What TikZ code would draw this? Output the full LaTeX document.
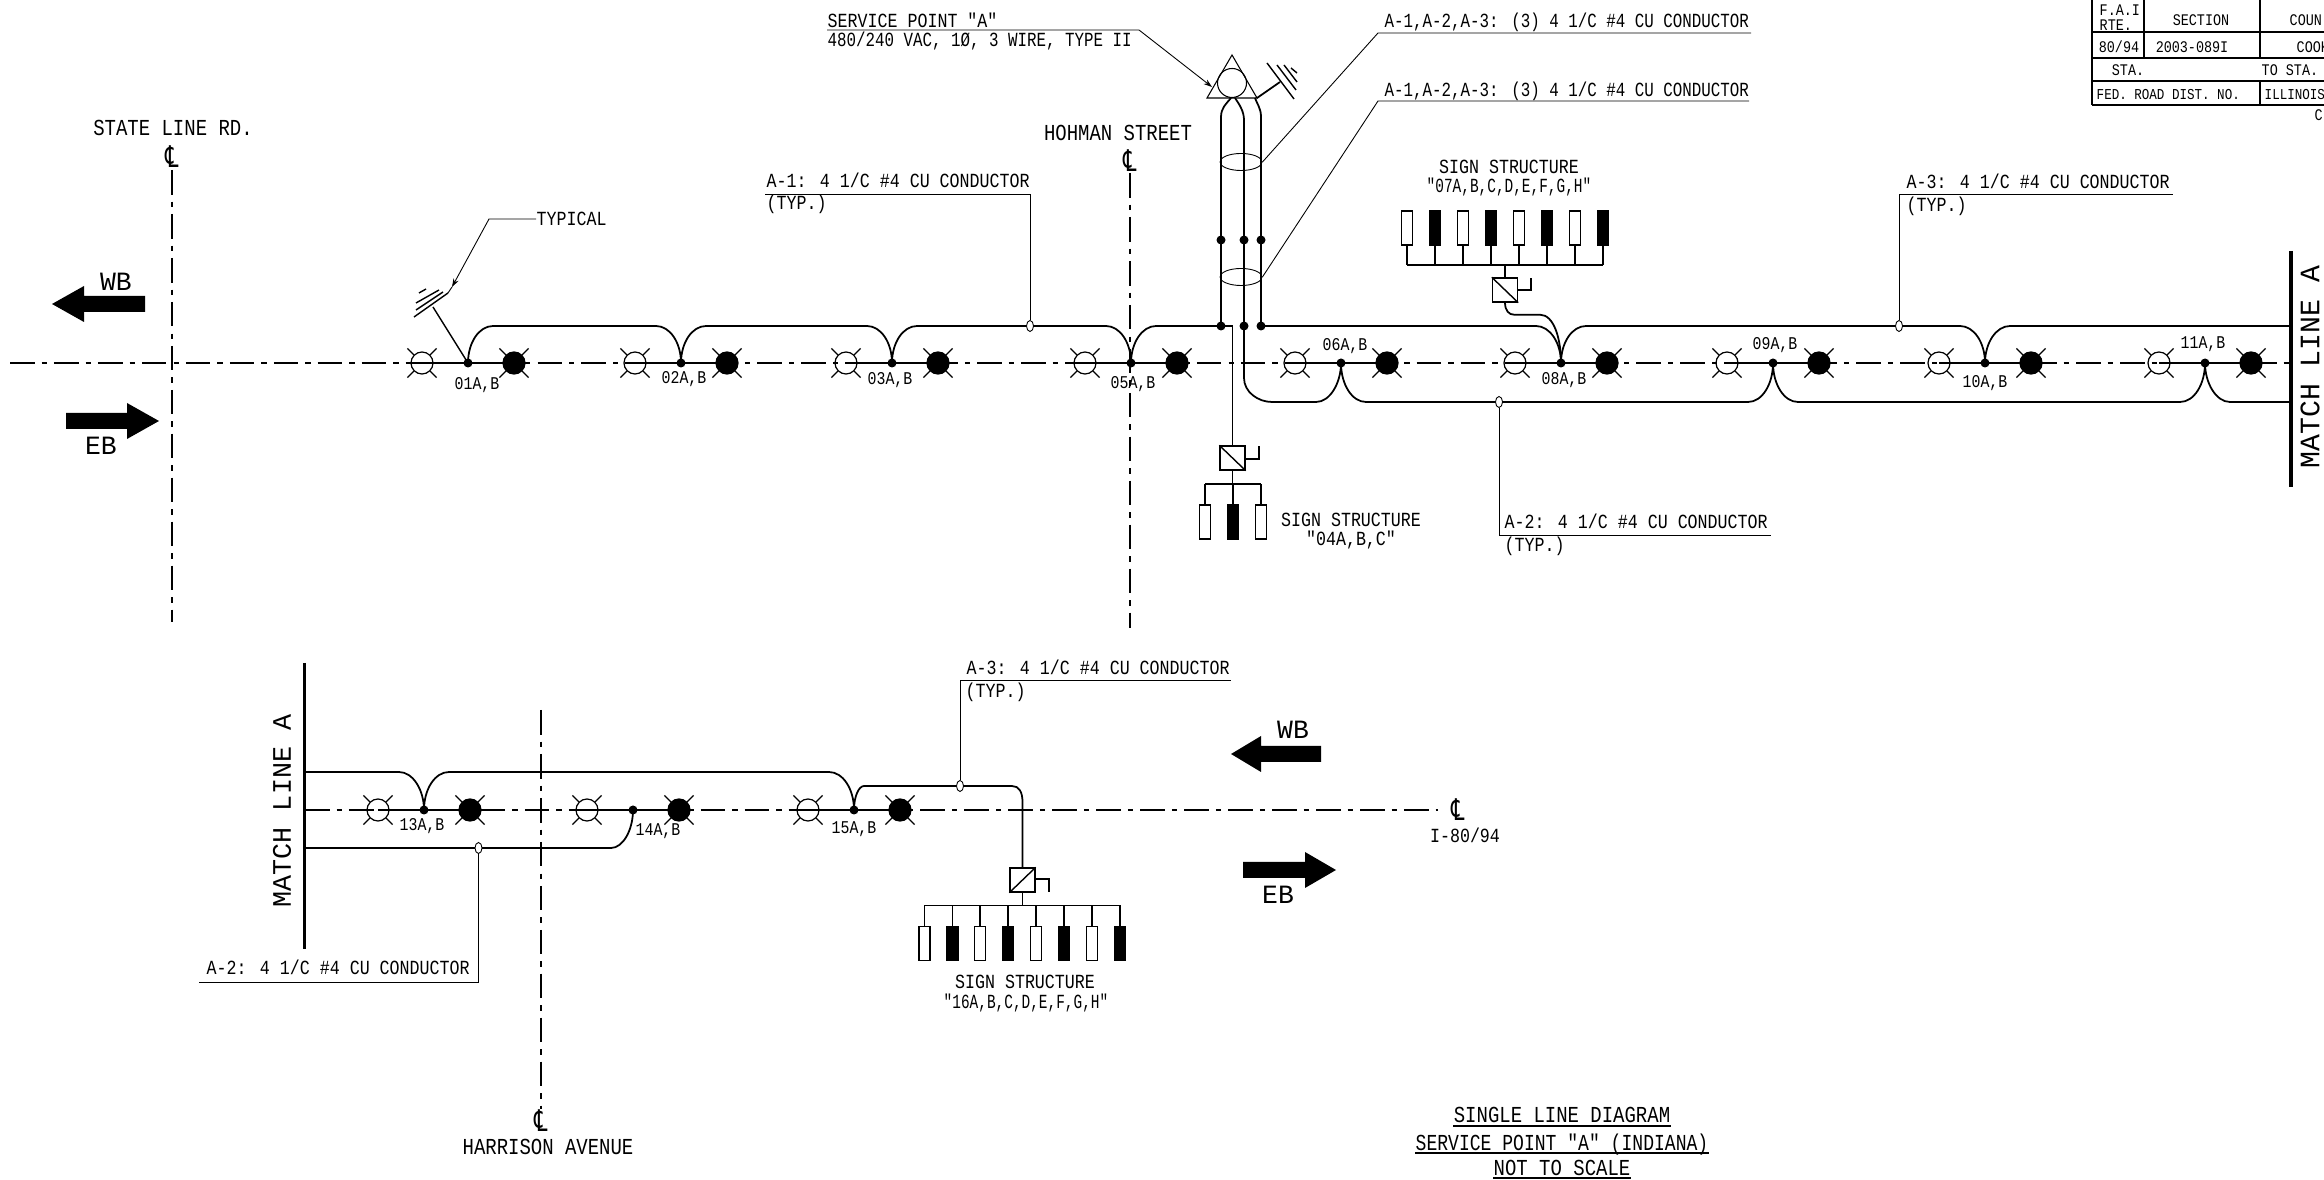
\documentclass[tikz,border=0pt]{standalone}
\usepackage{fontspec}
\usetikzlibrary{arrows.meta,shapes.geometric}
\newfontfamily\cadfont[FakeStretch=0.83]{Liberation Mono}
\newfontfamily\narrowfont[FakeStretch=0.79]{Liberation Mono}
\newfontfamily\signfont[FakeStretch=0.72]{Liberation Mono}
\newfontfamily\widefont{Liberation Mono}
\newfontfamily\clfont[FakeStretch=0.7]{DejaVu Sans}
\newcommand{\clmark}{\clfont\fontsize{8.5}{9}\selectfont ℄}
\tikzset{
  txt/.style={font=\cadfont\fontsize{5.7}{6.5}\selectfont,inner sep=0},
  narrowtxt/.style={font=\narrowfont\fontsize{5.7}{6.5}\selectfont,inner sep=0},
  signtxt/.style={font=\signfont\fontsize{5.7}{6.5}\selectfont,inner sep=0},
  roadtxt/.style={font=\cadfont\fontsize{6.5}{7}\selectfont,inner sep=0},
  poletxt/.style={font=\cadfont\fontsize{5.1}{6}\selectfont,inner sep=0},
  tabletxt/.style={font=\cadfont\fontsize{4.6}{5}\selectfont,inner sep=0},
  fedtxt/.style={font=\cadfont\fontsize{4.3}{5}\selectfont,inner sep=0},
  dirtxt/.style={font=\widefont\fontsize{7.5}{8}\selectfont,inner sep=0},
  matchtxt/.style={font=\widefont\fontsize{8}{9}\selectfont,inner sep=0,rotate=90},
  cltxt/.style={font=\clmark,inner sep=0},
  centre/.style={line width=0.35pt,dash pattern=on 7pt off 2pt on 1.5pt off 2pt},
  bus/.style={line width=0.5pt},
  seg/.style={line width=0.7pt},
  leader/.style={line width=0.25pt},
  lamp/.style={circle,draw,line width=0.35pt,minimum size=0.22cm,inner sep=0},
  lampon/.style={lamp,fill},
  pole/.style={circle,fill,minimum size=0.09cm,inner sep=0},
  tick/.style={ellipse,draw,line width=0.25pt,fill=white,minimum width=0.07cm,minimum height=0.11cm,inner sep=0},
  signw/.style={rectangle,draw,line width=0.35pt,minimum width=0.11cm,minimum height=0.34cm,inner sep=0},
  signb/.style={signw,fill},
  ctrl/.style={rectangle,draw,line width=0.4pt,minimum width=0.25cm,minimum height=0.24cm,inner sep=0},
  sleeve/.style={ellipse,draw,line width=0.25pt,minimum width=0.42cm,minimum height=0.17cm,inner sep=0},
  hump/.style={to path={.. controls +(0,0.55*#1) and +(-14,0) .. ([shift={(25,#1)}]\tikztostart)
    -- ([shift={(-25,#1)}]\tikztotarget) .. controls +(14,0) and +(0,0.55*#1) .. (\tikztotarget)}},
}
\begin{document}
\begin{tikzpicture}[>={Stealth[length=2.4pt,width=1.6pt]},x=0.01cm,y=-0.01cm]
  \useasboundingbox (0,0) rectangle (2324,1180);
  \clip (0,0) rectangle (2324,1180);
  %
  % Centre lines
  \draw[centre] (10,363) -- (2291,363);
  \draw[centre] (305,810) -- (1438,810);
  \draw[centre] (172,170) -- (172,622);
  \draw[centre] (1130,173) -- (1130,628);
  \draw[centre] (541,710) -- (541,1109);
  \node[roadtxt] (stateroad) at (173,128) {STATE LINE RD.};
  \node[cltxt] (statecl) at (172,157) {};
  \node[roadtxt] (hohman) at (1118,133) {HOHMAN STREET};
  \node[cltxt] (hohmancl) at (1130,161) {};
  \node[cltxt] (harrisoncl) at (541,1121) {};
  \node[roadtxt] (harrison) at (548,1147) {HARRISON AVENUE};
  \node[cltxt] (freewaycl) at (1458,810) {};
  \node[txt] (freeway) at (1465,835) {I-80/94};
  %
  % Match lines
  \draw[line width=0.9pt] (2291,251) coordinate (matchr) -- (2291,487);
  \draw[line width=0.9pt] (304.5,663) coordinate (matchl) -- (304.5,949);
  \node[matchtxt] (matchrtxt) at (2310,367) {MATCH LINE A};
  \node[matchtxt,font=\widefont\fontsize{7.6}{9}\selectfont] (matchltxt) at (282,811) {MATCH LINE A};
  %
  % Lamp pairs and their poles
  \foreach \name/\x/\y/\lx/\ly in {01/468/363/477/385,02/681/363/684/379,03/892/363/890/380,
    05/1131/363/1133/384,06/1341/363/1345/346,08/1561/363/1564/380,09/1773/363/1775/345,
    10/1985/363/1985/383,11/2205/363/2203/344,13/424/810/422/826,14/633/810/658/831,15/854/810/854/829} {
    \node[pole] (p\name) at (\x,\y) {};
    \node[lamp] (w\name) at (\x-46,\y) {};
    \node[lampon] (b\name) at (\x+46,\y) {};
    \draw[seg] (w\name.center) -- (b\name.center);
    \foreach \a in {45,135,225,315} {
      \draw[leader,line width=0.35pt] (w\name.\a) -- ++(-\a:9);
      \draw[leader,line width=0.35pt] (b\name.\a) -- ++(-\a:9);
    }
    \node[poletxt] (lab\name) at (\lx,\ly) {\name A,B};
  }
  %
  % Service point
  \node[circle,draw,line width=0.3pt,minimum size=0.29cm,inner sep=0] (svc) at (1232,83) {};
  \draw[line width=0.3pt] (1232,55) -- (1207,98) -- (1257,98) -- cycle;
  \coordinate (gnd) at (1280,82);
  \draw[line width=0.5pt] (1257,98) -- (gnd);
  \draw[line width=0.4pt] (1267,63) -- (1294,99) (1277,65) -- (1296,90) (1284,65) -- (1297,82) (1291,68) -- (1297,73);
  \node[txt,anchor=west] (svcone) at (827,20) {SERVICE POINT "A"};
  \node[narrowtxt,anchor=west] (svctwo) at (827,41) {480/240 VAC, 1Ø, 3 WIRE, TYPE II};
  \coordinate (svcend) at (827,30);
  \coordinate (svcpt) at (1212,87);
  \draw[leader,->] (svcend) -- (1139,30) -- (svcpt);
  %
  % Risers from the service point
  \foreach \name/\x in {a/1221,b/1244,c/1261} {
    \node[pole] (d\name t) at (\x,240) {};
    \node[pole] (d\name b) at (\x,326) {};
  }
  \draw[bus] (dab.center) -- (dat.center) -- ++(0,-123) .. controls +(0,-9) and +(-5,6) .. (1231,98);
  \draw[bus] (dbb.center) -- (dbt.center) -- ++(0,-120) .. controls +(0,-9) and +(4,6) .. (1235,98);
  \draw[bus] (dcb.center) -- (dct.center) -- ++(0,-123) .. controls +(0,-9) and +(2,6) .. (1255,98);
  \node[sleeve] (slvup) at (1241,162) {};
  \node[sleeve] (slvlo) at (1241,277) {};
  \coordinate (slvupend) at (1751,33);
  \coordinate (slvloend) at (1749,101);
  \draw[leader] (slvup.east) -- (1378,33) -- (slvupend);
  \draw[leader] (slvlo.east) -- (1378,101) -- (slvloend);
  \node[narrowtxt,anchor=west] (slvuptxt) at (1384,22) {A-1,A-2,A-3: (3) 4 1/C \#4 CU CONDUCTOR};
  \node[narrowtxt,anchor=west] (slvlotxt) at (1384,91) {A-1,A-2,A-3: (3) 4 1/C \#4 CU CONDUCTOR};
  %
  % Circuit A-1
  \foreach \a/\b in {01/02,02/03,03/05} \draw[bus,hump=-37] (p\a.center) to (p\b.center);
  \draw[bus] (p05.center) .. controls +(0,-20) and +(-14,0) .. ([shift={(25,-37)}]p05.center) -- (dab.center);
  %
  % Circuit A-3
  \draw[bus] (dcb.center) -- ([shift={(-25,-37)}]p08.center) .. controls +(14,0) and +(0,-20) .. (p08.center);
  \draw[bus,hump=-37] (p08.center) to (p10.center);
  \coordinate (busrup) at (2291,326);
  \draw[bus] (p10.center) .. controls +(0,-20) and +(-14,0) .. ([shift={(25,-37)}]p10.center) -- (busrup);
  %
  % Circuit A-2
  \draw[bus] (dbb.center) -- ++(0,52) .. controls +(0,14) and +(-14,0) .. ++(28,24)
    -- ([shift={(-25,39)}]p06.center) .. controls +(14,0) and +(0,20) .. (p06.center);
  \foreach \a/\b in {06/09,09/11} \draw[bus,hump=39] (p\a.center) to (p\b.center);
  \coordinate (busrlo) at (2291,402);
  \draw[bus] (p11.center) .. controls +(0,20) and +(-14,0) .. ([shift={(25,39)}]p11.center) -- (busrlo);
  %
  % Lower row
  \coordinate (busllu) at (304.5,772);
  \coordinate (bussll) at (304.5,848);
  \draw[bus] (busllu) -- ([shift={(-25,-38)}]p13.center) .. controls +(14,0) and +(0,-20) .. (p13.center);
  \draw[bus,hump=-38] (p13.center) to (p15.center);
  \draw[bus] (bussll) -- ([shift={(-22,38)}]p14.center) .. controls +(12,0) and +(0,20) .. (p14.center);
  %
  % Sign structure 04
  \node[ctrl] (box04) at (1232.5,458) {};
  \draw[line width=0.4pt] (box04.north west) -- (box04.south east);
  \draw[line width=0.35pt] (box04.east |- 0,459) -- (1259,459) -- (1259,446);
  \draw[bus] (dab.center) -| (box04.north);
  \coordinate (bar04) at (1232.5,484);
  \draw[bus] (box04.south) -- (bar04);
  \draw[bus] (1205,484) -- (1261,484);
  \foreach \i/\x/\kind in {1/1205/signw,2/1233/signb,3/1261/signw} {
    \node[\kind] (s04\i) at (\x,522) {};
    \draw[leader,line width=0.35pt] (s04\i.north) -- (\x,484);
  }
  \node[txt] (sign04a) at (1351,520) {SIGN STRUCTURE};
  \node[txt] (sign04b) at (1351,540) {"04A,B,C"};
  %
  % Sign structure 07
  \node[ctrl] (box07) at (1505,290) {};
  \draw[line width=0.4pt] (box07.north west) -- (box07.south east);
  \draw[line width=0.35pt] (box07.east |- 0,290) -- (1531,290) -- (1531,278);
  \coordinate (bar07) at (1505,265);
  \draw[leader,line width=0.35pt] (box07.north) -- (bar07);
  \draw[bus] (1407,265) -- (1603,265);
  \foreach \i/\x/\kind in {1/1407/signw,2/1435/signb,3/1463/signw,4/1491/signb,5/1519/signw,6/1547/signb,7/1575/signw,8/1603/signb} {
    \node[\kind] (s07\i) at (\x,228) {};
    \draw[leader,line width=0.35pt] (s07\i.south) -- (\x,265);
  }
  \draw[bus] (box07.south) .. controls +(0,8) and +(-5,0) .. ++(9,12) -- ++(26,0) .. controls +(14,0) and +(0,-24) .. (p08.center);
  \node[txt] (sign07a) at (1509,167) {SIGN STRUCTURE};
  \node[signtxt] (sign07b) at (1509,187) {"07A,B,C,D,E,F,G,H"};
  %
  % Sign structure 16
  \node[ctrl] (box16) at (1022.5,880) {};
  \draw[line width=0.4pt] (box16.south west) -- (box16.north east);
  \draw[line width=0.35pt] (box16.east |- 0,879) -- (1049,879) -- (1049,892);
  \coordinate (c16) at (1012,786);
  \draw[bus] (p15.center) .. controls +(0,-14) and +(-5,0) .. ++(10,-24) -- (c16) .. controls +(7,0) and +(0,-10) .. (1022.5,802) -- (box16.north);
  \coordinate (bar16) at (1022.5,905.5);
  \draw[leader,line width=0.35pt] (box16.south) -- (bar16);
  \draw[bus] (924.5,905.5) -- (1120,905.5);
  \foreach \i/\x/\kind in {1/924.5/signw,2/952.5/signb,3/980/signw,4/1008/signb,5/1036/signw,6/1064/signb,7/1092/signw,8/1120/signb} {
    \node[\kind] (s16\i) at (\x,943.5) {};
    \draw[leader,line width=0.35pt] (s16\i.north) -- (\x,905.5);
  }
  \node[txt] (sign16a) at (1025,982) {SIGN STRUCTURE};
  \node[signtxt] (sign16b) at (1026,1003) {"16A,B,C,D,E,F,G,H"};
  %
  % Conductor call-outs
  \foreach \name/\x/\y in {t1/1030/326,t2/1899/326,t3/1499/402,t4/960/786,t5/478.5/848}
    \node[tick] (\name) at (\x,\y) {};
  \coordinate (t1end) at (765,194);
  \coordinate (t2end) at (2173,194);
  \coordinate (t3end) at (1771,535);
  \coordinate (t4end) at (1231,680);
  \coordinate (t5end) at (199,982);
  \draw[leader] (t1) |- (t1end);
  \draw[leader] (t2) |- (t2end);
  \draw[leader] (t3) |- (t3end);
  \draw[leader] (t4) |- (t4end);
  \draw[leader] (t5) |- (t5end);
  \node[txt,anchor=west] (a1txt) at (766,180) {A-1: 4 1/C \#4 CU CONDUCTOR};
  \node[txt,anchor=west] (a1typ) at (766,204) {(TYP.)};
  \node[txt,anchor=west] (a3txt) at (1906,181) {A-3: 4 1/C \#4 CU CONDUCTOR};
  \node[txt,anchor=west] (a3typ) at (1906,206) {(TYP.)};
  \node[txt,anchor=west] (a2txt) at (1504,521) {A-2: 4 1/C \#4 CU CONDUCTOR};
  \node[txt,anchor=west] (a2typ) at (1504,546) {(TYP.)};
  \node[txt,anchor=west] (a3lo) at (966,667) {A-3: 4 1/C \#4 CU CONDUCTOR};
  \node[txt,anchor=west] (a3lotyp) at (965,692) {(TYP.)};
  \node[txt,anchor=west] (a2lo) at (206,967) {A-2: 4 1/C \#4 CU CONDUCTOR};
  %
  % Typical ground
  \draw[line width=0.4pt] (p01.center) -- (433,307);
  \draw[line width=0.4pt] (414,317) -- (448,293) (416,310) -- (443,292) (416,303) -- (439,290) (419,293) -- (426,289);
  \node[txt,anchor=west] (typical) at (536,219) {TYPICAL};
  \draw[leader,->] (typical.west) -- (489,219) -- (452,287);
  \draw[leader] (452,287) -- (448,293);
  %
  % Direction arrows
  \fill (52,304) -- (84,286) -- (84,296) -- (145,296) -- (145,312) -- (84,312) -- (84,322) -- cycle;
  \fill (159,421) -- (127,403) -- (127,413) -- (66,413) -- (66,429) -- (127,429) -- (127,439) -- cycle;
  \fill (1231,754) -- (1261,736) -- (1261,746) -- (1321,746) -- (1321,762) -- (1261,762) -- (1261,772) -- cycle;
  \fill (1336,870) -- (1305,852) -- (1305,862) -- (1243,862) -- (1243,878) -- (1305,878) -- (1305,888) -- cycle;
  \node[dirtxt] (wbup) at (116,282) {WB};
  \node[dirtxt] (ebup) at (101,446) {EB};
  \node[dirtxt] (wblo) at (1293,730) {WB};
  \node[dirtxt] (eblo) at (1278,895) {EB};
  %
  % Title
  \node[roadtxt,anchor=base] (titleone) at (1562,1123) {SINGLE LINE DIAGRAM};
  \node[roadtxt,anchor=base,font=\narrowfont\fontsize{6.5}{7}\selectfont] (titletwo) at (1562,1150) {SERVICE POINT "A" (INDIANA)};
  \node[roadtxt,anchor=base] (titlethree) at (1562,1175) {NOT TO SCALE};
  \foreach \t in {titleone,titletwo,titlethree}
    \draw[leader,line width=0.35pt] ([yshift=-0.03cm]\t.base west) -- ([yshift=-0.03cm]\t.base east);
  %
  % Title block
  \draw[leader,line width=0.35pt] (2092,0) -- (2092,105) (2144,0) -- (2144,58) (2260,0) -- (2260,58) (2260,81) -- (2260,105);
  \foreach \y in {32,58,81,105} \draw[leader,line width=0.35pt] (2092,\y) -- (2324,\y);
  \node[tabletxt,anchor=west] (fai) at (2099,10) {F.A.I.};
  \node[tabletxt,anchor=west] (rte) at (2099,25) {RTE.};
  \node[tabletxt] (section) at (2201,20) {SECTION};
  \node[tabletxt,anchor=west] (county) at (2289,20) {COUN};
  \node[tabletxt] (route) at (2119,47) {80/94};
  \node[tabletxt] (secno) at (2192,47) {2003-089I};
  \node[tabletxt,anchor=west] (cook) at (2296,47) {COOK};
  \node[tabletxt] (sta) at (2128,70) {STA.};
  \node[tabletxt,anchor=west] (tosta) at (2261,70) {TO STA.};
  \node[fedtxt,anchor=west] (fed) at (2096,95) {FED. ROAD DIST. NO.};
  \node[fedtxt,anchor=west] (ill) at (2264,95) {ILLINOIS};
  \node[tabletxt,anchor=west] (cont) at (2314,115) {C};
  %
\end{tikzpicture}
\end{document}
